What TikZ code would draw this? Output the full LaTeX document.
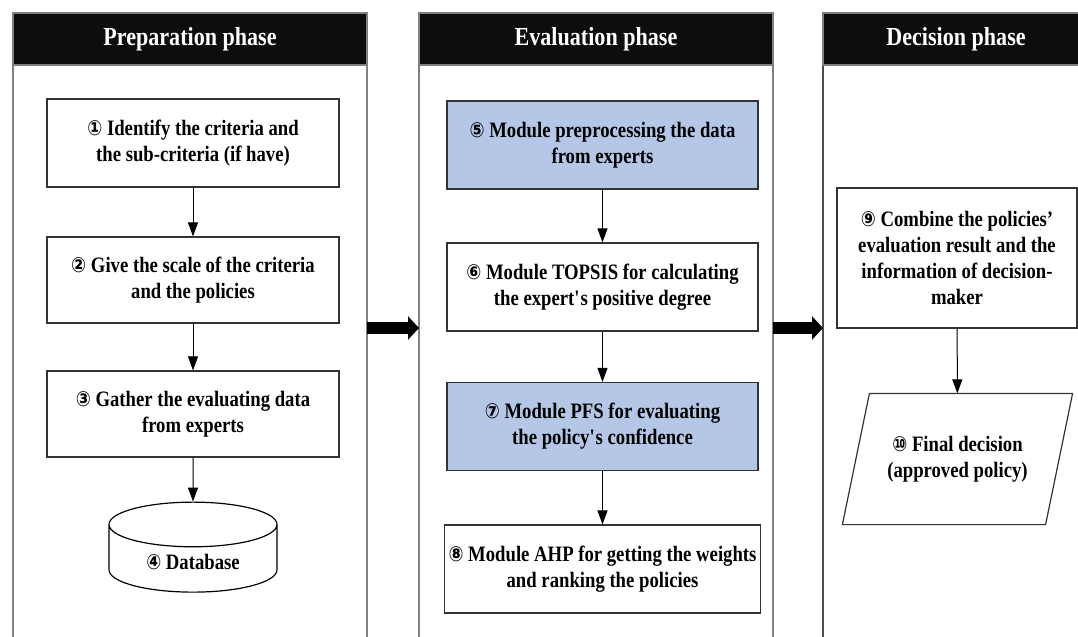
\documentclass[tikz,border=0pt]{standalone}
\usepackage{fontspec}
\setmainfont[FakeStretch=0.85]{Liberation Serif}
\newfontfamily\circfont[FakeStretch=0.85,Scale=0.95]{DejaVu Sans}
\usetikzlibrary{shapes.geometric,arrows.meta}
\newcommand{\circnum}[1]{{\circfont #1}}
\definecolor{modblue}{HTML}{B4C7E7}
\begin{document}
\begin{tikzpicture}[x=0.5pt,y=-0.5pt,
	panel/.style={draw=gray, line width=1pt},
	head/.style={fill=black!95, draw=gray, line width=0.8pt, text=white, minimum height=26pt, inner sep=0pt, font=\fontsize{13}{15}\selectfont\bfseries},
	stepbox/.style={draw=black!80, line width=0.6pt, align=center, inner sep=2pt, font=\fontsize{11}{13}\selectfont\bfseries},
	modbox/.style={stepbox, fill=modblue},
	flow/.style={-{Triangle[length=7pt,width=5pt]}, line width=0.5pt},
	bigarrow/.style={-{Triangle[length=5.5pt,width=11.5pt]}, line width=6pt}]
	\useasboundingbox (0,0) rectangle (1078,637);
	% panels
	\draw[panel] (13,637) -- (13,13) -- (367,13) -- (367,637);
	\draw[panel] (419,637) -- (419,13) -- (773,13) -- (773,637);
	\draw[panel, draw=black!70] (823,637) -- (823,13) -- (1090,13);
	\node[head, minimum width=177pt] (prep) at (190,39) {Preparation phase};
	\node[head, minimum width=177pt] (eval) at (596,39) {Evaluation phase};
	\node[head, minimum width=133pt] (deci) at (956,39) {Decision phase};
	% preparation
	\node[stepbox, minimum width=146pt, minimum height=44pt] (s1) at (193,143) {\circnum{①} Identify the criteria and\\the sub-criteria (if have)};
	\node[stepbox, minimum width=146pt, minimum height=43pt] (s2) at (193,280) {\circnum{②} Give the scale of the criteria\\and the policies};
	\node[stepbox, minimum width=146pt, minimum height=43pt] (s3) at (193,414) {\circnum{③} Gather the evaluating data\\from experts};
	\node[stepbox, shape=cylinder, shape border rotate=90, aspect=0.44, minimum width=84pt, minimum height=45pt, draw=black] (s4) at (193,562) {\circnum{④} Database};
	% evaluation
	\node[modbox, minimum width=155.5pt, minimum height=44pt] (s5) at (602.5,145) {\circnum{⑤} Module preprocessing the data\\from experts};
	\node[stepbox, minimum width=155.5pt, minimum height=44pt] (s6) at (602.5,287) {\circnum{⑥} Module TOPSIS for calculating\\the expert\textquotesingle s positive degree};
	\node[modbox, minimum width=155.5pt, minimum height=44pt] (s7) at (602.5,426.5) {\circnum{⑦} Module PFS for evaluating\\the policy\textquotesingle s confidence};
	\node[stepbox, minimum width=155.5pt, minimum height=44pt] (s8) at (602.5,569) {\circnum{⑧} Module AHP for getting the weights\\and ranking the policies};
	% decision
	\node[stepbox, minimum width=120pt, minimum height=70pt] (s9) at (957,258) {\circnum{⑨} Combine the policies’\\evaluation result and the\\information of decision-\\maker};
	\node[stepbox, draw=none, minimum width=101pt, minimum height=65pt] (s10) at (957.5,459) {\circnum{⑩} Final decision\\(approved policy)};
	\draw[black!80, line width=0.6pt] ([xshift=-6.75pt]s10.south west) -- ([xshift=6.75pt]s10.north west)
		-- ([xshift=6.75pt]s10.north east) -- ([xshift=-6.75pt]s10.south east) -- cycle;
	% connectors
	\draw[flow] (s1) -- (s2);
	\draw[flow] (s2) -- (s3);
	\draw[flow] (s3) -- (s4);
	\draw[flow] (s5) -- (s6);
	\draw[flow] (s6) -- (s7);
	\draw[flow] (s7) -- (s8);
	\draw[flow] (s9) -- (s10);
	\coordinate (p1r) at (367,328);
	\coordinate (p2l) at (419,328);
	\coordinate (p2r) at (773,328);
	\coordinate (p3l) at (823,328);
	\draw[bigarrow] (p1r) -- (p2l);
	\draw[bigarrow] (p2r) -- (p3l);
\end{tikzpicture}
\end{document}
